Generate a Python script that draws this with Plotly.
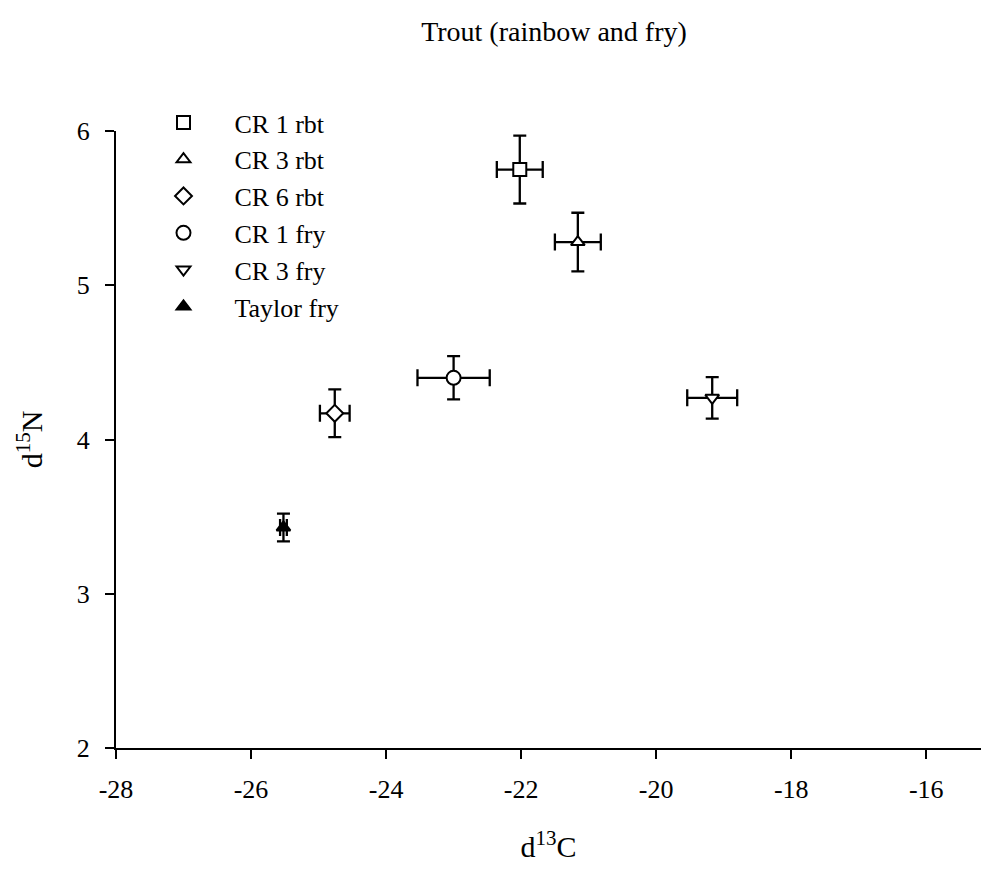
import plotly.graph_objects as go

# Data
names = ["CR 1 rbt", "CR 3 rbt", "CR 6 rbt", "CR 1 fry", "CR 3 fry", "Taylor fry"]
d13C = [-22.02, -21.16, -24.76, -23.00, -19.17, -25.52]
d15N = [5.75, 5.28, 4.17, 4.40, 4.27, 3.43]
d13C_err = [0.34, 0.34, 0.22, 0.535, 0.37, 0.05]
d15N_err = [0.22, 0.19, 0.155, 0.14, 0.135, 0.09]

x_ticks = [-28, -26, -24, -22, -20, -18, -16]
y_ticks = [2, 3, 4, 5, 6]

symbols = ["square", "triangle-up", "diamond", "circle", "triangle-down", "triangle-up"]
sizes = [13, 12, 13, 14, 12, 12]
fills = ["white", "white", "white", "white", "white", "black"]

FONT = "Liberation Serif, Times New Roman, serif"

fig = go.Figure()
for i, nm in enumerate(names):
    fig.add_trace(go.Scatter(
        x=[d13C[i]], y=[d15N[i]], name=nm, mode="markers",
        marker=dict(symbol=symbols[i], size=sizes[i], color=fills[i],
                    line=dict(color="black", width=2)),
        error_x=dict(type="data", array=[d13C_err[i]], color="black",
                     thickness=2.3, width=8.5),
        error_y=dict(type="data", array=[d15N_err[i]], color="black",
                     thickness=2.3, width=6.5),
    ))

# page body has an 8px margin; figure sized to fit the 989x875 window
OFF = 8
W, H = 989 - 2 * OFF, 875 - 2 * OFF
left = 115.5 - OFF
top = 131 - OFF
bottom = 747.7 - OFF
right_edge = W
px_per_unit = 67.56
x_end = -28 + (right_edge - left) / px_per_unit

fig.update_layout(
    width=W, height=H,
    margin=dict(l=left, r=0, t=top, b=H - bottom, pad=0),
    paper_bgcolor="white", plot_bgcolor="white",
    font=dict(family=FONT, size=24, color="black"),
    title=dict(text="Trout (rainbow and fry)", x=(554 - OFF) / W, xref="container",
               xanchor="center", y=1 - (31 - OFF) / H, yref="container", yanchor="middle",
               font=dict(family=FONT, size=28, color="black")),
    showlegend=True,
    legend=dict(x=(124 - left) / (right_edge - left), y=1 + 32 / (bottom - top),
                xanchor="left", yanchor="top",
                font=dict(family=FONT, size=26, color="black"),
                bgcolor="rgba(0,0,0,0)", itemwidth=92, tracegroupgap=0),
    xaxis=dict(range=[-28, x_end], tickvals=x_ticks,
               ticktext=[str(v) for v in x_ticks],
               showline=True, linecolor="black", linewidth=2.3,
               ticks="outside", ticklen=9, tickwidth=2.3, tickcolor="black",
               showgrid=False, zeroline=False, ticklabelstandoff=8,
               tickfont=dict(family=FONT, size=26),
               title=dict(text="d<sup>13</sup>C", font=dict(family=FONT, size=30),
                          standoff=33)),
    yaxis=dict(range=[2, 6], tickvals=y_ticks, ticktext=[str(v) for v in y_ticks],
               showline=True, linecolor="black", linewidth=2.3,
               ticks="outside", ticklen=9, tickwidth=2.3, tickcolor="black",
               showgrid=False, zeroline=False, ticklabelstandoff=10,
               tickfont=dict(family=FONT, size=26),
               title=dict(text="d<sup>15</sup>N", font=dict(family=FONT, size=30),
                          standoff=25)),
)

fig.write_html("out.html")
